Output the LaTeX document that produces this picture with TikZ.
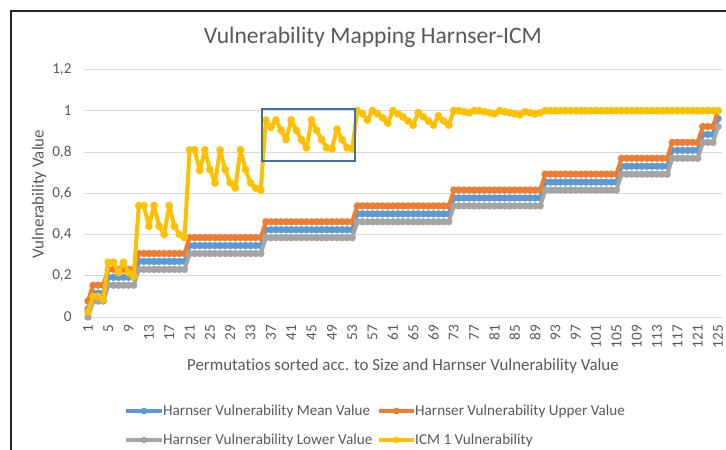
\documentclass[tikz,border=0pt]{standalone}
\usepackage{fontspec}
\setmainfont{Carlito}[Ligatures=NoCommon]
\usetikzlibrary{calc}

\definecolor{txtgray}{HTML}{595959}
\definecolor{gridgray}{HTML}{D9D9D9}
\definecolor{meanblue}{HTML}{5B9BD5}
\definecolor{upperorange}{HTML}{ED7D31}
\definecolor{lowergray}{HTML}{A5A5A5}
\definecolor{icmyellow}{HTML}{FFC000}
\definecolor{boxblue}{HTML}{41719C}

% level k of the Harnser value and its first/last permutation
\def\grouplist{1/1/1,2/2/4,3/5/10,4/11/20,5/21/35,6/36/53,7/54/72,8/73/90,
  9/91/105,10/106/115,11/116/121,12/122/124,13/125/125}

% #1 = offset below k/13, #2 = colour
\newcommand{\harnserseries}[2]{%
  \draw[series,#2] (1,{(1-#1)/13})
    \foreach \k/\a/\b in \grouplist {-- (\a,{(\k-#1)/13}) -- (\b,{(\k-#1)/13})};
  \foreach \k/\a/\b in \grouplist
    \foreach \i in {\a,...,\b}
      \fill[#2] (\i,{(\k-#1)/13}) circle (3.7pt);
}

\begin{document}
\begin{tikzpicture}[x=1pt,y=1pt,
    every node/.style={text=txtgray,font=\fontsize{15.2}{18}\selectfont},
    axistitle/.style={font=\fontsize{16.9}{20}\selectfont},
    gridline/.style={draw=gridgray,line width=0.8pt},
    series/.style={line width=4pt,line join=round,line cap=round},
    legline/.style={line width=3.6pt},
    chartbox/.style={draw=boxblue,line width=1.3pt}]

  \useasboundingbox (0,0) rectangle (726,450);
  \fill[white] (0,0) rectangle (726,450);
  \draw[line width=1.6pt,black!85] (11,0) -- (11,439) -- (726,439);

  \node[font=\fontsize{23.6}{27}\selectfont] (title) at (373,413)
    {Vulnerability Mapping Harnser-ICM};

  % grid and value axis
  \foreach \v/\t [count=\n] in {0/0,0.2/{0,2},0.4/{0,4},0.6/{0,6},0.8/{0,8},1/1,1.2/{1,2}} {
    \draw[gridline] (84,{133+206.3*\v}) -- (722,{133+206.3*\v});
    \node[anchor=east] (yl\n) at (75,{133+206.3*\v}) {\t};
  }
  \node[axistitle,rotate=90] (ytitle) at (39,256) {Vulnerability Value};

  % category axis
  \foreach \i in {1,5,...,125}
    \node[rotate=90,anchor=east,inner sep=1pt] (xl\i) at ({88+(\i-1)*5.081},126) {\i};
  \node[axistitle] (xtitle) at (403,84)
    {Permutatios sorted acc. to Size and Harnser Vulnerability Value};

  \begin{scope}[shift={(82.919pt,133pt)},x=5.081pt,y=206.3pt]
    \harnserseries{0.5}{meanblue}
    \harnserseries{0}{upperorange}
    \harnserseries{1}{lowergray}
    % ICM 1 vulnerability
    \foreach \v [count=\i, remember=\v as \lastv (initially 0.025),
                 remember=\i as \lasti (initially 1)] in {
      0.025,0.10,0.10,0.085,
      0.265,0.265,0.215,0.265,0.215,0.195,
      0.54,0.54,0.44,0.54,0.44,0.40,0.54,0.44,0.40,0.385,
      0.81,0.81,0.71,0.81,0.715,0.65,0.81,0.715,0.65,0.625,0.81,0.715,0.65,0.625,0.615,
      0.955,0.92,0.955,0.905,0.86,0.955,0.905,0.86,0.82,0.955,0.905,0.86,0.82,0.815,
      0.91,0.86,0.82,0.815,
      1,0.985,0.955,1,0.985,0.965,0.94,1,0.985,0.97,0.95,0.93,0.99,0.97,0.95,0.93,
      0.975,0.95,0.93,
      1,1,0.995,0.99,1,1,0.995,0.99,0.985,1,0.995,0.99,0.985,0.98,0.995,0.99,0.985,0.99,
      1,1,1,1,1,1,1,1,1,1,1,1,1,1,1,1,1,1,1,1,1,1,1,1,1,1,1,1,1,1,1,1,1,1,1} {
      \draw[series,icmyellow] (\lasti,\lastv) -- (\i,\v);
      \fill[icmyellow] (\i,\v) circle (3.9pt);
    }
  \end{scope}

  % highlighted block
  \draw[chartbox] (262,289) rectangle (355,341);

  % legend
  \node[anchor=west,inner sep=1pt] (legmean) at (162,39) {Harnser Vulnerability Mean Value};
  \node[anchor=west,inner sep=1pt] (legupper) at (414,39) {Harnser Vulnerability Upper Value};
  \node[anchor=west,inner sep=1pt] (leglower) at (162,10) {Harnser Vulnerability Lower Value};
  \node[anchor=west,inner sep=1pt] (legicm) at (414,10) {ICM 1 Vulnerability};
  \coordinate (lm) at (126,39);
  \coordinate (lu) at (379,39);
  \coordinate (ll) at (126,10);
  \coordinate (li) at (379,10);
  \foreach \c/\n/\col in {lm/legmean/meanblue,lu/legupper/upperorange,
                         ll/leglower/lowergray,li/legicm/icmyellow} {
    \draw[legline,\col] (\c) -- (\n.west);
    \fill[\col] ($(\c)!0.5!(\n.west)$) circle (3.4pt);
  }
\end{tikzpicture}
\end{document}
